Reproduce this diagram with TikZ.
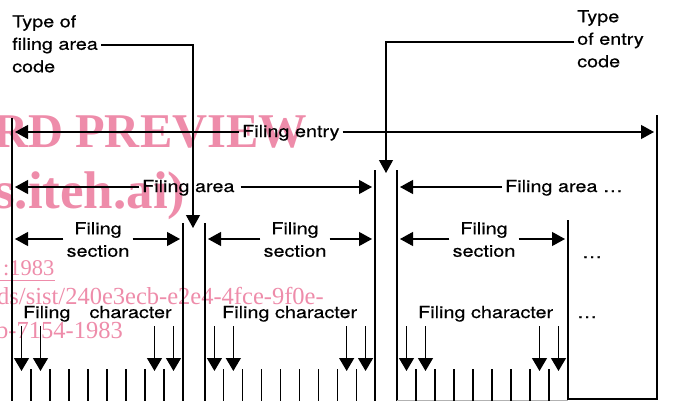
\documentclass[tikz,border=0pt]{standalone}
\usepackage{fontspec}
\setmainfont{TeX Gyre Heros}[FakeStretch=1.2,FakeBold=0.5]
\newfontfamily\wmfont{Liberation Serif}
\usetikzlibrary{arrows.meta}
\definecolor{wmpink}{RGB}{238,140,170}
\begin{document}
\begin{tikzpicture}[x=1pt,y=-1pt,
  ln/.style={line width=1.2pt},
  arr/.style={line width=1.2pt,-{Triangle[length=13pt,width=14pt]}},
  darr/.style={line width=1.3pt,-{Triangle[length=13pt,width=15pt]}},
  lab/.style={inner xsep=3pt,inner ysep=0pt,font=\fontsize{16.5pt}{22.5pt}\selectfont},
  wm/.style={inner sep=0pt,anchor=base west,text=wmpink}]
\useasboundingbox (0,0) rectangle (674,401);

% watermark
\node[wm,font=\wmfont\bfseries\fontsize{48.5pt}{48pt}\selectfont] (w1) at (-7,147) {RD PREVIEW};
\node[wm,font=\wmfont\bfseries\fontsize{53pt}{50pt}\selectfont] (w2) at (-6,208) {s.iteh.ai)};
\node[wm,font=\wmfont\fontsize{22.5pt}{22.5pt}\selectfont] (w3) at (3,275) {:1983};
\coordinate (u1) at (0,280); \coordinate (u2) at (55,280);
\draw[wmpink,line width=1pt] (u1) -- (u2);
\node[wm,font=\wmfont\fontsize{24.5pt}{24.5pt}\selectfont] (w4) at (-3,304) {ds/sist/240e3ecb-e2e4-4fce-9f0e-};
\node[wm,font=\wmfont\fontsize{24.5pt}{24.5pt}\selectfont] (w5) at (-4,338) {b-7154-1983};

% boundary lines
\foreach \n/\x/\t/\b in {L/12/118/401, S1/183/223/401, S2/205/223/401, A1/375/170/401, A2/397/170/401}{
  \coordinate (\n t) at (\x,\t); \coordinate (\n b) at (\x,\b);
  \draw[ln] (\n t) -- (\n b);
}
\coordinate (S3t) at (568,220); \coordinate (S3b) at (568,399);
\coordinate (Rt) at (657,115); \coordinate (Rb) at (657,399);
\draw[ln] (S3t) -- (S3b) -- (Rb) -- (Rt);
\coordinate (g1) at (397,400.3); \coordinate (g2) at (568,400.3);
\draw[black!30,line width=0.8pt] (g1) -- (g2);

% character ticks and arrows
\foreach \s/\e [count=\j] in {12/183, 205/375, 397/568}{
  \pgfmathsetmacro{\w}{(\e-\s)/9}
  \foreach \k in {1,...,8}{
    \coordinate (tk\j-\k-t) at ({\s+\k*\w},369);
    \coordinate (tk\j-\k-b) at ({\s+\k*\w},401);
    \draw[ln] (tk\j-\k-t) -- (tk\j-\k-b);
  }
  \foreach \k in {0,1,7,8}{
    \coordinate (ca\j-\k-t) at ({\s+(\k+0.5)*\w},326);
    \coordinate (ca\j-\k-b) at ({\s+(\k+0.5)*\w},371);
    \draw[darr] (ca\j-\k-t) -- (ca\j-\k-b);
  }
}

% labels
\node[lab,anchor=north west,align=left] (ta) at (9,15) {Type of\\filing area\\code};
\node[lab,anchor=north west,align=left] (te) at (574,10) {Type\\of entry\\code};
\node[lab,anchor=base west] (fe) at (239,137) {Filing entry};
\node[lab,anchor=base west] (fa1) at (139,192) {Filing area};
\node[lab,anchor=base west] (fa2) at (502,192) {Filing area …};
\node[lab,anchor=north,align=center] (fs1) at (98,222) {Filing\\section};
\node[lab,anchor=north,align=center] (fs2) at (295,222) {Filing\\section};
\node[lab,anchor=north,align=center] (fs3) at (484,222) {Filing\\section};
\node[lab,anchor=base west] (fd1) at (579,258) {…};
\node[lab,anchor=base west] (fc1) at (20,318) {Filing\hspace{19pt}character};
\node[lab,anchor=base west] (fc2) at (219,318) {Filing character};
\node[lab,anchor=base west] (fc3) at (415,318) {Filing character};
\node[lab,anchor=base west] (fd2) at (574,318) {…};

% code connectors
\coordinate (ka) at (193,45); \coordinate (tipA) at (193,228);
\draw[arr] (ta.east |- ka) -- (ka) -- (tipA);
\coordinate (ke) at (386,42); \coordinate (tipB) at (386,173);
\draw[arr] (te.west |- ke) -- (ke) -- (tipB);

% extent arrows
\coordinate (feL) at (15,132); \coordinate (feR) at (654,132);
\draw[arr] (fe.west |- feL) -- (feL);
\draw[arr] (fe.east |- feR) -- (feR);
\coordinate (faL) at (15,187); \coordinate (faR) at (372,187); \coordinate (fbL) at (400,187);
\draw[arr] (fa1.west |- faL) -- (faL);
\draw[arr] ([xshift=3pt]fa1.east |- faR) -- (faR);
\draw[arr] (fa2.west |- fbL) -- (fbL);
\coordinate (s1L) at (15,239); \coordinate (s1R) at (180,239);
\coordinate (s2L) at (208,239); \coordinate (s2R) at (372,239);
\coordinate (s3L) at (400,239); \coordinate (s3R) at (565,239);
\draw[arr] (fs1.west |- s1L) -- (s1L);
\draw[arr] (fs1.east |- s1R) -- (s1R);
\draw[arr] (fs2.west |- s2L) -- (s2L);
\draw[arr] (fs2.east |- s2R) -- (s2R);
\draw[arr] (fs3.west |- s3L) -- (s3L);
\draw[arr] (fs3.east |- s3R) -- (s3R);
\end{tikzpicture}
\end{document}
